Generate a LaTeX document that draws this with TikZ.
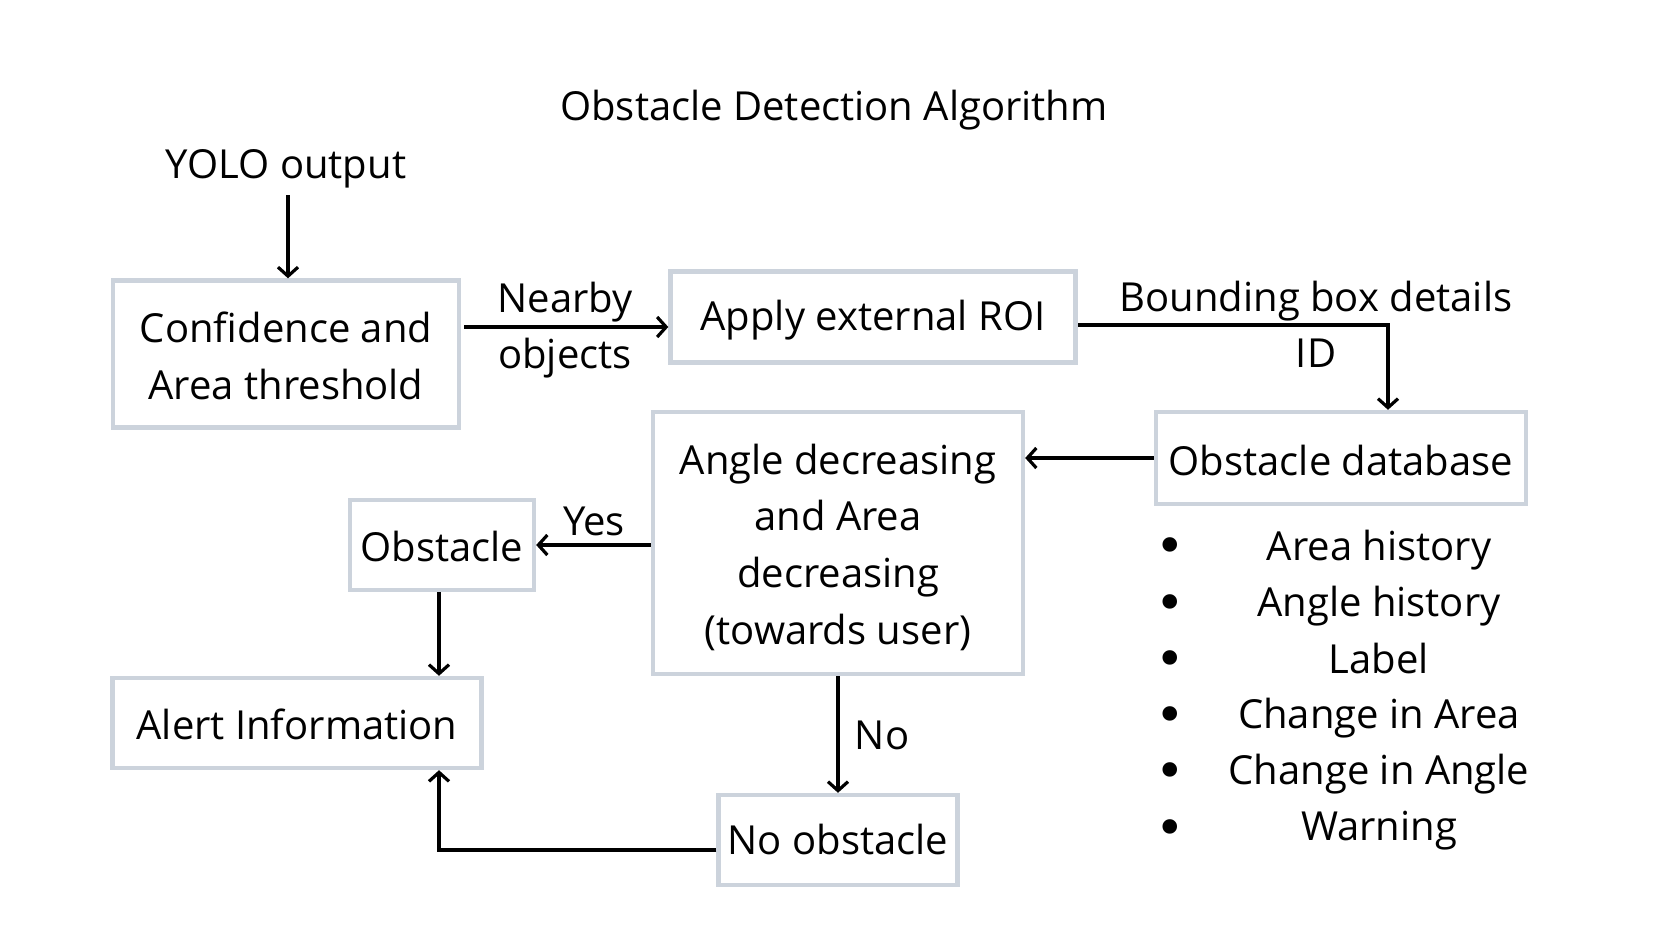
\documentclass[tikz,border=0pt]{standalone}
\usepackage{fontspec}
\setmainfont{Open Sans}
\newfontfamily\bulfont{DejaVu Sans}
\usetikzlibrary{arrows.meta}
\definecolor{boxgray}{HTML}{CCD3DC}
\newcommand\txtdown[2]{\raisebox{-#1}[\height][\depth]{#2}}
\tikzset{
  every node/.style={font=\fontsize{20}{28.3}\selectfont, text=black},
  box/.style={draw=boxgray, line width=2.2pt, inner sep=0pt, align=center, fill=white},
  conn/.style={line width=1.6pt, -{Straight Barb[length=4.5pt,width=10pt,line width=1.6pt]}},
  lbl/.style={inner sep=0pt, align=center},
  bul/.style={inner sep=0pt, anchor=base, font=\bulfont\fontsize{25}{25}\selectfont}
}
\begin{document}
\begin{tikzpicture}[x=0.5pt,y=-0.5pt]
\useasboundingbox (0,0) rectangle (1671,927);
% title
\node[lbl] (title) at (834,110) {Obstacle Detection Algorithm};
\node[lbl] (yolo) at (286,169) {YOLO output};
% boxes
\node[box, minimum width=173pt, minimum height=73.5pt] (conf) at (286,354)
  {\txtdown{0.8pt}{Confidence and}\\\txtdown{0.8pt}{Area threshold}};
\node[box, minimum width=202.5pt, minimum height=45.5pt] (roi) at (873,317)
  {\txtdown{1.6pt}{Apply external ROI}};
\node[box, minimum width=185pt, minimum height=46pt] (db) at (1341,458)
  {\txtdown{1pt}{Obstacle database}};
\node[box, minimum width=185pt, minimum height=131pt] (angle) at (838,543)
  {\txtdown{2.1pt}{Angle decreasing}\\\txtdown{2.1pt}{and Area}\\\txtdown{2.1pt}{decreasing}\\\txtdown{2.1pt}{(towards user)}};
\node[box, minimum width=92pt, minimum height=45pt] (obst) at (442,545)
  {\txtdown{0.5pt}{Obstacle}};
\node[box, minimum width=184.5pt, minimum height=45pt] (alert) at (297,723)
  {\txtdown{0.5pt}{Alert Information}};
\node[box, minimum width=119.5pt, minimum height=45pt] (noobs) at (838,840)
  {\txtdown{-0.5pt}{No obstacle}};
% coordinates
\coordinate (yolotop) at (288,195);
\coordinate (roiout) at (1078,325);
\coordinate (bend) at (1388,325);
% connectors
\draw[conn] (yolotop) -- (yolotop |- conf.north);
\draw[conn] ([xshift=1.5pt]conf.east |- 0,327) coordinate (c1) -- (roi.west |- c1);
\node[lbl] (nearby) at (565,302) {Nearby};
\node[lbl] (objects) at (565,358) {objects};
\draw[conn] (roiout) -- (bend) -- (bend |- db.north);
\node[lbl] (bbd) at (1316,301) {Bounding box details};
\node[lbl] (id) at (1316,353) {ID};
\draw[conn] (db.west) -- (angle.east |- db.west);
\draw[conn] (angle.west |- obst.east) -- (obst.east);
\node[lbl] (yes) at (594,521) {Yes};
\draw[conn] ([xshift=-1.5pt]obst.south) coordinate (c2) -- (c2 |- alert.north);
\draw[conn] (angle.south) -- (noobs.north);
\node[lbl] (no) at (882,735) {No};
\draw[conn] ([yshift=-5pt]noobs.west) coordinate (c3) -- (c2 |- c3) -- (c2 |- alert.south);
% bullet list
\foreach \t/\y/\by [count=\i] in {Area history/550/563, Angle history/606/620, Label/658/676, Change in Area/718/732, Change in Angle/774/788, Warning/831/845} {
  \node[bul] (b\i) at (1170,\by) {•};
  \node[lbl] (t\i) at (1379,\y) {\t};
}
\end{tikzpicture}
\end{document}
